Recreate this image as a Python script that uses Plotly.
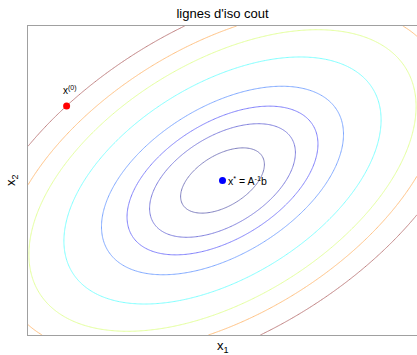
import numpy as np
import plotly.graph_objects as go

# Quadratic cost f(x) = 0.5 x^T A x - b^T x
A = [[2.0, -1.25], [-1.25, 3.25]]
b = [0.75, 2.0]
x_start = [-0.603, 1.772]          # x^(0)
x1_range = [-1.0, 3.0]
x2_range = [-0.6, 2.6]
levels = [-1.234, -0.948, -0.643, -0.199, 0.645, 1.635, 2.515, 3.715]
level_colors = ["#8080c0", "#8080dd", "#8080fc", "#80a9ff",
                "#80ffff", "#e4ff9b", "#ffc180", "#c08080"]

title_text = "lignes d'iso cout"
x_label = "x<sub>1</sub>"
y_label = "x<sub>2</sub>"
label_x0 = "x<sup>(0)</sup>"
label_xstar = "x<sup>*</sup> = A<sup>-1</sup>b"

Am = np.array(A)
bv = np.array(b)
x_star = np.linalg.solve(Am, bv)

g1 = np.linspace(x1_range[0], x1_range[1], 321)
g2 = np.linspace(x2_range[0], x2_range[1], 261)
X1, X2 = np.meshgrid(g1, g2)
Z = 0.5 * (Am[0, 0] * X1**2 + 2 * Am[0, 1] * X1 * X2 + Am[1, 1] * X2**2) - bv[0] * X1 - bv[1] * X2

fig = go.Figure()
for lev, col in zip(levels, level_colors):
    fig.add_trace(go.Contour(
        x=g1, y=g2, z=Z, autocontour=False,
        contours=dict(start=lev, end=lev, size=1, coloring="none"),
        line=dict(color=col, width=1, smoothing=1),
        showscale=False, hoverinfo="skip", showlegend=False))

fig.add_trace(go.Scatter(x=[x_start[0]], y=[x_start[1]], mode="markers",
                         marker=dict(color="#ff0000", size=7), showlegend=False))
fig.add_trace(go.Scatter(x=[x_star[0]], y=[x_star[1]], mode="markers",
                         marker=dict(color="#0000ff", size=7), showlegend=False))

font_family = "Liberation Sans, Arial, sans-serif"
fig.add_annotation(x=x_start[0], y=x_start[1], text=label_x0, showarrow=False,
                   xanchor="center", yanchor="middle", xshift=3, yshift=16,
                   font=dict(size=10, color="black", family=font_family))
fig.add_annotation(x=x_star[0], y=x_star[1], text=label_xstar, showarrow=False,
                   xanchor="left", yanchor="middle", xshift=3, yshift=0,
                   font=dict(size=10.5, color="black", family=font_family))
fig.add_annotation(x=0.5, y=0, xref="paper", yref="paper", text=x_label, showarrow=False,
                   xanchor="center", yanchor="top", yshift=-1,
                   font=dict(size=13, color="black", family=font_family))
fig.add_annotation(x=0, y=0.5, xref="paper", yref="paper", text=y_label, showarrow=False,
                   textangle=-90, xanchor="right", yanchor="middle", xshift=-6,
                   font=dict(size=13, color="black", family=font_family))

axis_common = dict(showgrid=False, zeroline=False, showticklabels=False, ticks="",
                   showline=True, linecolor="#a0a0a0", linewidth=1)
fig.update_xaxes(range=x1_range, mirror=True, **axis_common)
fig.update_yaxes(range=x2_range, mirror=False, **axis_common)

fig.update_layout(
    width=417, height=355,
    margin=dict(l=28, r=0, t=26, b=20),
    paper_bgcolor="white", plot_bgcolor="white",
    title=dict(text=title_text, x=0.5, xref="paper", y=1 - 13 / 355, yref="container",
               xanchor="center", yanchor="middle",
               font=dict(size=13, color="black", family=font_family)),
)

fig.write_html("out.html", config={"displayModeBar": False},
               post_script="document.body.style.margin='0px';document.body.style.overflow='hidden';")
